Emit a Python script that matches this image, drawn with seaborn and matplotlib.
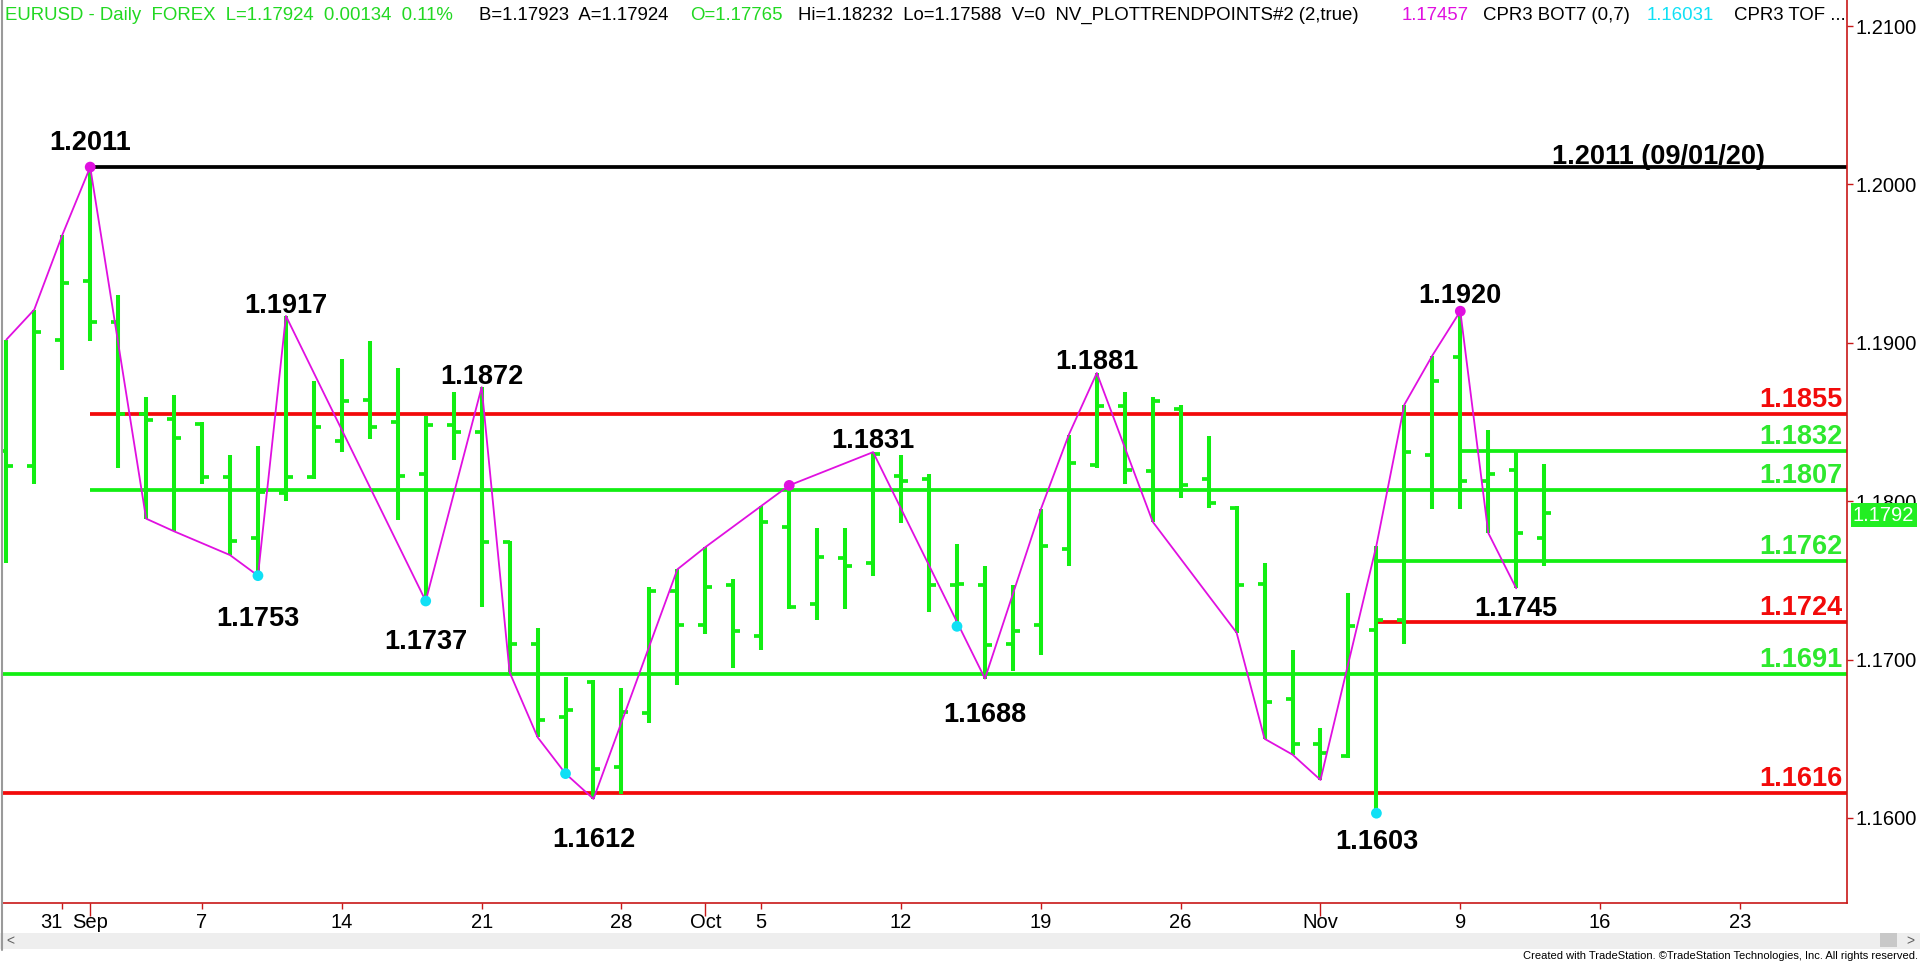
import numpy as np
import pandas as pd
import matplotlib
matplotlib.use("Agg")
import matplotlib.pyplot as plt
import matplotlib.transforms as mtransforms
from matplotlib.patches import Rectangle
import seaborn as sns

# EURUSD daily bars, Aug 27 .. Nov 12 2020 (bar index = trading day)
opens = [1.1832, 1.1822, 1.1902, 1.1939, 1.1913, 1.1855, 1.1852, 1.1849, 1.1815, 1.1777,
         1.1805, 1.1815, 1.1838, 1.1864, 1.1850, 1.1817, 1.1848, 1.1844, 1.1774, 1.1710,
         1.1664, 1.1686, 1.1632, 1.1666, 1.1743, 1.1722, 1.1747, 1.1715, 1.1784, 1.1735,
         1.1764, 1.1761, 1.1816, 1.1814, 1.1747, 1.1747, 1.1710, 1.1722, 1.1770, 1.1823,
         1.1860, 1.1819, 1.1858, 1.1814, 1.1796, 1.1748, 1.1675, 1.1647, 1.1639, 1.1719,
         1.1725, 1.1829, 1.1891, 1.1813, 1.1820, 1.17765]
highs = [1.1902, 1.1921, 1.1968, 1.2011, 1.1930, 1.1866, 1.1867, 1.1850, 1.1829, 1.1835,
         1.1917, 1.1876, 1.1890, 1.1901, 1.1884, 1.1854, 1.1869, 1.1872, 1.1775, 1.1720,
         1.1689, 1.1687, 1.1682, 1.1746, 1.1757, 1.1771, 1.1751, 1.1797, 1.1810, 1.1783,
         1.1783, 1.1831, 1.1829, 1.1817, 1.1773, 1.1759, 1.1747, 1.1795, 1.1842, 1.1881,
         1.1869, 1.1866, 1.1861, 1.1841, 1.1797, 1.1761, 1.1706, 1.1657, 1.1742, 1.1772,
         1.1861, 1.1892, 1.1920, 1.1845, 1.1831, 1.18232]
lows = [1.1761, 1.1811, 1.1883, 1.1901, 1.1821, 1.1789, 1.1781, 1.1811, 1.1766, 1.1753,
        1.1800, 1.1814, 1.1831, 1.1839, 1.1788, 1.1737, 1.1826, 1.1733, 1.1692, 1.1651,
        1.1628, 1.1612, 1.1615, 1.1660, 1.1684, 1.1716, 1.1695, 1.1706, 1.1732, 1.1725,
        1.1732, 1.1753, 1.1786, 1.1730, 1.1721, 1.1688, 1.1693, 1.1703, 1.1759, 1.1821,
        1.1811, 1.1787, 1.1802, 1.1796, 1.1717, 1.1650, 1.1640, 1.1624, 1.1638, 1.1603,
        1.1710, 1.1795, 1.1795, 1.1780, 1.1745, 1.17588]
closes = [1.1822, 1.1907, 1.1938, 1.1913, 1.1855, 1.1851, 1.1840, 1.1815, 1.1775, 1.1806,
          1.1815, 1.1847, 1.1863, 1.1847, 1.1816, 1.1848, 1.1844, 1.1774, 1.1710, 1.1662,
          1.1668, 1.1631, 1.1667, 1.1743, 1.1722, 1.1746, 1.1718, 1.1787, 1.1733, 1.1765,
          1.1759, 1.1830, 1.1813, 1.1747, 1.1748, 1.1709, 1.1718, 1.1772, 1.1824, 1.1860,
          1.1820, 1.1863, 1.1810, 1.1799, 1.1747, 1.1673, 1.1647, 1.1641, 1.1721, 1.1725,
          1.1831, 1.1876, 1.1813, 1.1817, 1.1780, 1.17924]

# trend-point zigzag: bar index and which extreme (H/L)
zig_bars = [0, 1, 2, 3, 5, 6, 8, 9, 10, 15, 17, 18, 19, 20, 21, 24, 25, 27, 28, 31, 35,
            37, 38, 39, 41, 44, 45, 46, 47, 49, 50, 51, 52, 53, 54]
zig_side = ['H', 'H', 'H', 'H', 'L', 'L', 'L', 'L', 'H', 'L', 'H', 'L', 'L', 'L', 'L', 'H', 'H',
            'H', 'H', 'H', 'L', 'H', 'H', 'H', 'L', 'L', 'L', 'L', 'L', 'H', 'H', 'H', 'H', 'L', 'L']
top_dots = [3, 28, 52]
bottom_dots = [9, 15, 20, 34, 49]

# swing labels
swing_bars = [3, 10, 17, 31, 39, 52, 9, 15, 21, 35, 49, 54]
swing_side = ['H', 'H', 'H', 'H', 'H', 'H', 'L', 'L', 'L', 'L', 'L', 'L']
swing_dy = [27, 13, 13, 14, 14, 18, -40, -38, -38, -33, -26, -18]

# support / resistance levels
level_price = [1.2011, 1.1855, 1.1832, 1.1807, 1.1762, 1.1724, 1.1691, 1.1616]
level_kind = ['black', 'red', 'green', 'green', 'green', 'red', 'green', 'red']
level_start = [3, 3, 52, 3, 49, 49, None, None]

# x axis dates
date_pos = [2, 3, 7, 12, 17, 22, 25, 27, 32, 37, 42, 47, 52, 57, 62]
date_lbl = ['31', 'Sep', '7', '14', '21', '28', 'Oct', '5', '12', '19', '26', 'Nov', '9', '16', '23']
month_lbl = ['Sep', 'Oct', 'Nov']
y_ticks = [1.16, 1.17, 1.18, 1.19, 1.20, 1.21]
last_price = 1.17924

GREEN = '#12EE12'
GREEN_TXT = '#2EE82E'
HDR_GREEN = '#22D822'
RED = '#F20A0A'
MAGENTA = '#E010E0'
CYAN = '#10E0F5'
AXRED = '#C81818'
colors = {'black': 'black', 'red': RED, 'green': GREEN}
text_colors = {'black': 'black', 'red': RED, 'green': GREEN_TXT}

sns.set_style('white')
plt.rcParams['font.family'] = ['Liberation Sans', 'DejaVu Sans']

bars = pd.DataFrame({'o': opens, 'h': highs, 'l': lows, 'c': closes})
bars['i'] = np.arange(len(bars))

W, H = 1920, 963
fig = plt.figure(figsize=(W / 100, H / 100), dpi=100)
ax = fig.add_axes([2 / W, 60 / H, 1845 / W, 903 / H])
x_lo, x_hi = -0.154, 65.83
ax.set_xlim(x_lo, x_hi)
ax.set_ylim(1.15463, 1.21165)

# level lines
for p, k, s in zip(level_price, level_kind, level_start):
    ax.hlines(p, x_lo if s is None else s, x_hi, color=colors[k], lw=2.7, zorder=2)

# OHLC bars
ax.vlines(bars.i, bars.l, bars.h, color=GREEN, lw=2.9, zorder=3, capstyle='butt')
ax.hlines(bars.o, bars.i - 0.25, bars.i, color=GREEN, lw=2.7, zorder=3)
ax.hlines(bars.c, bars.i, bars.i + 0.25, color=GREEN, lw=2.7, zorder=3)

# zigzag
zig = pd.DataFrame({'x': zig_bars,
                    'y': [highs[b] if s == 'H' else lows[b] for b, s in zip(zig_bars, zig_side)]})
sns.lineplot(data=zig, x='x', y='y', sort=False, color=MAGENTA, lw=1.3, ax=ax, zorder=4)
sns.scatterplot(x=top_dots, y=[highs[b] for b in top_dots], color=MAGENTA, s=60,
                edgecolor='none', ax=ax, zorder=5)
sns.scatterplot(x=bottom_dots, y=[lows[b] for b in bottom_dots], color=CYAN, s=60,
                edgecolor='none', ax=ax, zorder=5)

# swing labels
for b, s, dy in zip(swing_bars, swing_side, swing_dy):
    p = highs[b] if s == 'H' else lows[b]
    ax.annotate(f'{p:.4f}', (b, p), xytext=(0, dy), textcoords='offset pixels',
                ha='center', va='center_baseline', fontsize=19.5, fontweight='bold',
                color='black', zorder=6)

# level labels at the right
for p, k in zip(level_price, level_kind):
    if k == 'black':
        ax.annotate(f'{p:.4f} (09/01/20)', (62.9, p), xytext=(0, 3), textcoords='offset pixels',
                    ha='right', va='baseline', fontsize=19.5, fontweight='bold', color='black')
    else:
        ax.annotate(f'{p:.4f}', (x_hi, p), xytext=(-5, 7), textcoords='offset pixels',
                    ha='right', va='baseline', fontsize=19.5, fontweight='bold', color=text_colors[k])

# axes styling
for side in ['top', 'left']:
    ax.spines[side].set_visible(False)
ax.spines['right'].set_color(AXRED)
ax.spines['bottom'].set_color(AXRED)
ax.spines['right'].set_linewidth(1.2)
ax.spines['bottom'].set_linewidth(1.2)
ax.yaxis.tick_right()
ax.set_yticks(y_ticks)
ax.set_yticklabels([f'{v:.4f}' for v in y_ticks])
ax.tick_params(axis='y', right=True, length=4.5, width=1, color=AXRED, pad=1.5,
               labelsize=14.5, labelcolor='black')
ax.set_xticks(date_pos)
ax.set_xticklabels(date_lbl)
ax.tick_params(axis='x', bottom=True, length=4.5, width=1, color=AXRED, pad=3,
               labelsize=14.5, labelcolor='black')
for t, lbl in zip(ax.xaxis.get_major_ticks(), date_lbl):
    if lbl in month_lbl:
        t.tick1line.set_markersize(9)
    if lbl == '31':
        t.label1.set_horizontalalignment('right')
ax.set_xlabel('')
ax.set_ylabel('')
ax.grid(False)

# last price box
ax.annotate(f'{last_price:.4f}', (1.0, last_price),
            xycoords=mtransforms.blended_transform_factory(ax.transAxes, ax.transData),
            xytext=(6, -2), textcoords='offset pixels', ha='left', va='center',
            fontsize=14.5, color='white', annotation_clip=False, zorder=10,
            bbox=dict(boxstyle='square,pad=0.12', fc='#22EE22', ec='none'))

# header line
header = [("EURUSD - Daily  FOREX  L=1.17924  0.00134  0.11%", 5, HDR_GREEN),
          ("B=1.17923  A=1.17924", 479, 'black'),
          ("O=1.17765", 690, HDR_GREEN),
          ("Hi=1.18232  Lo=1.17588  V=0  NV_PLOTTRENDPOINTS#2 (2,true)", 798, 'black'),
          ("1.17457", 1402, MAGENTA),
          ("CPR3 BOT7 (0,7)", 1483, 'black'),
          ("1.16031", 1647, CYAN),
          ("CPR3 TOF ...", 1734, 'black')]
for txt, xp, col in header:
    fig.text(xp / W, 1 - 15 / H, txt, ha='left', va='center', fontsize=13.4, color=col)

# window chrome: left border, scroll bar, footer
fig.add_artist(plt.Line2D([2 / W, 2 / W], [1 - 950 / H, 1], transform=fig.transFigure,
                          color='#9A9A9A', lw=1.5))
fig.add_artist(Rectangle((0, 1 - 949 / H), 1, 16 / H, transform=fig.transFigure,
                         fc='#EEEEEE', ec='none'))
fig.add_artist(Rectangle((1880 / W, 1 - 947 / H), 17 / W, 14 / H, transform=fig.transFigure,
                         fc='#C8C8C8', ec='none'))
fig.text(6 / W, 1 - 941 / H, '<', fontsize=10, color='#606060', va='center')
fig.text(1906 / W, 1 - 941 / H, '>', fontsize=10, color='#606060', va='center')
fig.text(1918 / W, 1 - 956 / H,
         'Created with TradeStation. \u00a9TradeStation Technologies, Inc. All rights reserved.',
         ha='right', va='center', fontsize=8, color='black')

fig.savefig('out.png', dpi=100, facecolor='white')
